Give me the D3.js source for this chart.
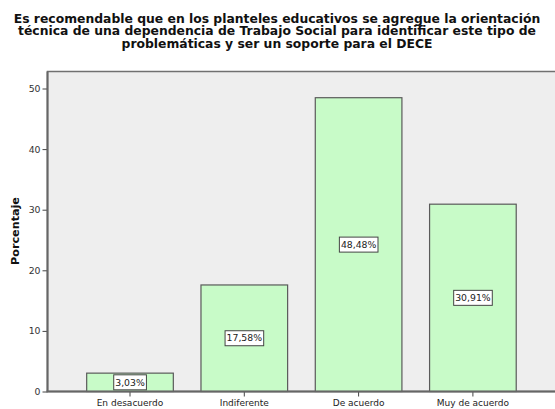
<!DOCTYPE html>
<html>
<head>
<meta charset="utf-8">
<script src="https://cdn.jsdelivr.net/npm/d3@7"></script>
<style>
  html, body { margin: 0; padding: 0; background: #fff; }
  svg { display: block; }
</style>
</head>
<body>
<svg id="chart" width="555" height="409"></svg>
<script>
const titleLines = [
  "Es recomendable que en los planteles educativos se agregue la orientación",
  "técnica de una dependencia de Trabajo Social para identificar este tipo de",
  "problemáticas y ser un soporte para el DECE"
];
const categories = ["En desacuerdo", "Indiferente", "De acuerdo", "Muy de acuerdo"];
const values = [3.03, 17.58, 48.48, 30.91];
const valueLabels = ["3,03%", "17,58%", "48,48%", "30,91%"];
const yTicks = [0, 10, 20, 30, 40, 50];
const yLabel = "Porcentaje";

const svg = d3.select("#chart");
const font = "'DejaVu Sans', Verdana, sans-serif";

const plot = { left: 47.5, top: 71.5, right: 565, bottom: 391.5 };

const y = d3.scaleLinear().domain([0, 50]).range([391.5, 88.5]);
const x = d3.scaleBand().domain(categories)
  .range([72.85, 530.05]).paddingInner(0.242).paddingOuter(0.121);

// plot background
svg.append("rect")
  .attr("x", plot.left).attr("y", plot.top)
  .attr("width", plot.right - plot.left).attr("height", plot.bottom - plot.top)
  .attr("fill", "#eeeeee").attr("stroke", "#707070").attr("stroke-width", 1.5);

// bars
svg.selectAll("rect.bar").data(values).join("rect")
  .attr("class", "bar")
  .attr("x", (d, i) => x(categories[i]))
  .attr("y", d => y(d))
  .attr("width", x.bandwidth())
  .attr("height", d => y(0) - y(d))
  .attr("fill", "#c8fbc8")
  .attr("stroke", "#5a5a5a").attr("stroke-width", 1.2);

// y axis
const yAxis = d3.axisLeft(y).tickValues(yTicks).tickSize(5).tickPadding(2);
const gy = svg.append("g").attr("transform", `translate(${plot.left},0)`).call(yAxis);
gy.select(".domain").remove();
gy.selectAll(".tick line").attr("stroke", "#444");
gy.selectAll(".tick text").attr("font-family", font).attr("font-size", 9.3).attr("fill", "#333");
svg.append("line").attr("x1", plot.left).attr("x2", plot.left)
  .attr("y1", plot.top).attr("y2", plot.bottom).attr("stroke", "#666").attr("stroke-width", 2);

// x axis
const xAxis = d3.axisBottom(x).tickSize(5).tickPadding(3);
const gx = svg.append("g").attr("transform", `translate(0,${plot.bottom})`).call(xAxis);
gx.select(".domain").remove();
gx.selectAll(".tick line").attr("stroke", "#444");
gx.selectAll(".tick text").attr("font-family", font).attr("font-size", 9).attr("fill", "#222");
svg.append("line").attr("x1", plot.left - 1).attr("x2", plot.right)
  .attr("y1", plot.bottom).attr("y2", plot.bottom).attr("stroke", "#666").attr("stroke-width", 2);

// value labels
const lab = svg.selectAll("g.vlab").data(values).join("g")
  .attr("class", "vlab")
  .attr("transform", (d, i) => `translate(${x(categories[i]) + x.bandwidth() / 2},${y(d / 2)})`);
lab.append("text")
  .attr("text-anchor", "middle").attr("dy", "0.35em")
  .attr("font-family", font).attr("font-size", 9.3).attr("fill", "#222")
  .text((d, i) => valueLabels[i]);
lab.each(function() {
  const g = d3.select(this);
  const bb = g.select("text").node().getBBox();
  g.insert("rect", "text")
    .attr("x", bb.x - 1.5).attr("y", -7.5)
    .attr("width", bb.width + 3).attr("height", 15)
    .attr("fill", "#fff").attr("stroke", "#444").attr("stroke-width", 1);
});

// title
const titleBaselines = [22.5, 35, 47.5];
const tg = svg.append("g");
titleLines.forEach((t, i) => {
  tg.append("text")
    .attr("x", 277).attr("y", titleBaselines[i])
    .attr("text-anchor", "middle")
    .attr("font-family", font).attr("font-weight", "bold").attr("font-size", 12)
    .attr("fill", "#111")
    .text(t);
});
const w0 = tg.select("text").node().getComputedTextLength();
tg.selectAll("text").attr("font-size", 12 * 527 / w0);

// y label
const yl = svg.append("text")
  .attr("transform", "translate(19,231) rotate(-90)")
  .attr("text-anchor", "middle")
  .attr("font-family", font).attr("font-weight", "bold").attr("font-size", 11)
  .attr("fill", "#111")
  .text(yLabel);
const wl = yl.node().getComputedTextLength();
yl.attr("font-size", 11 * 68 / wl);
</script>
</body>
</html>
